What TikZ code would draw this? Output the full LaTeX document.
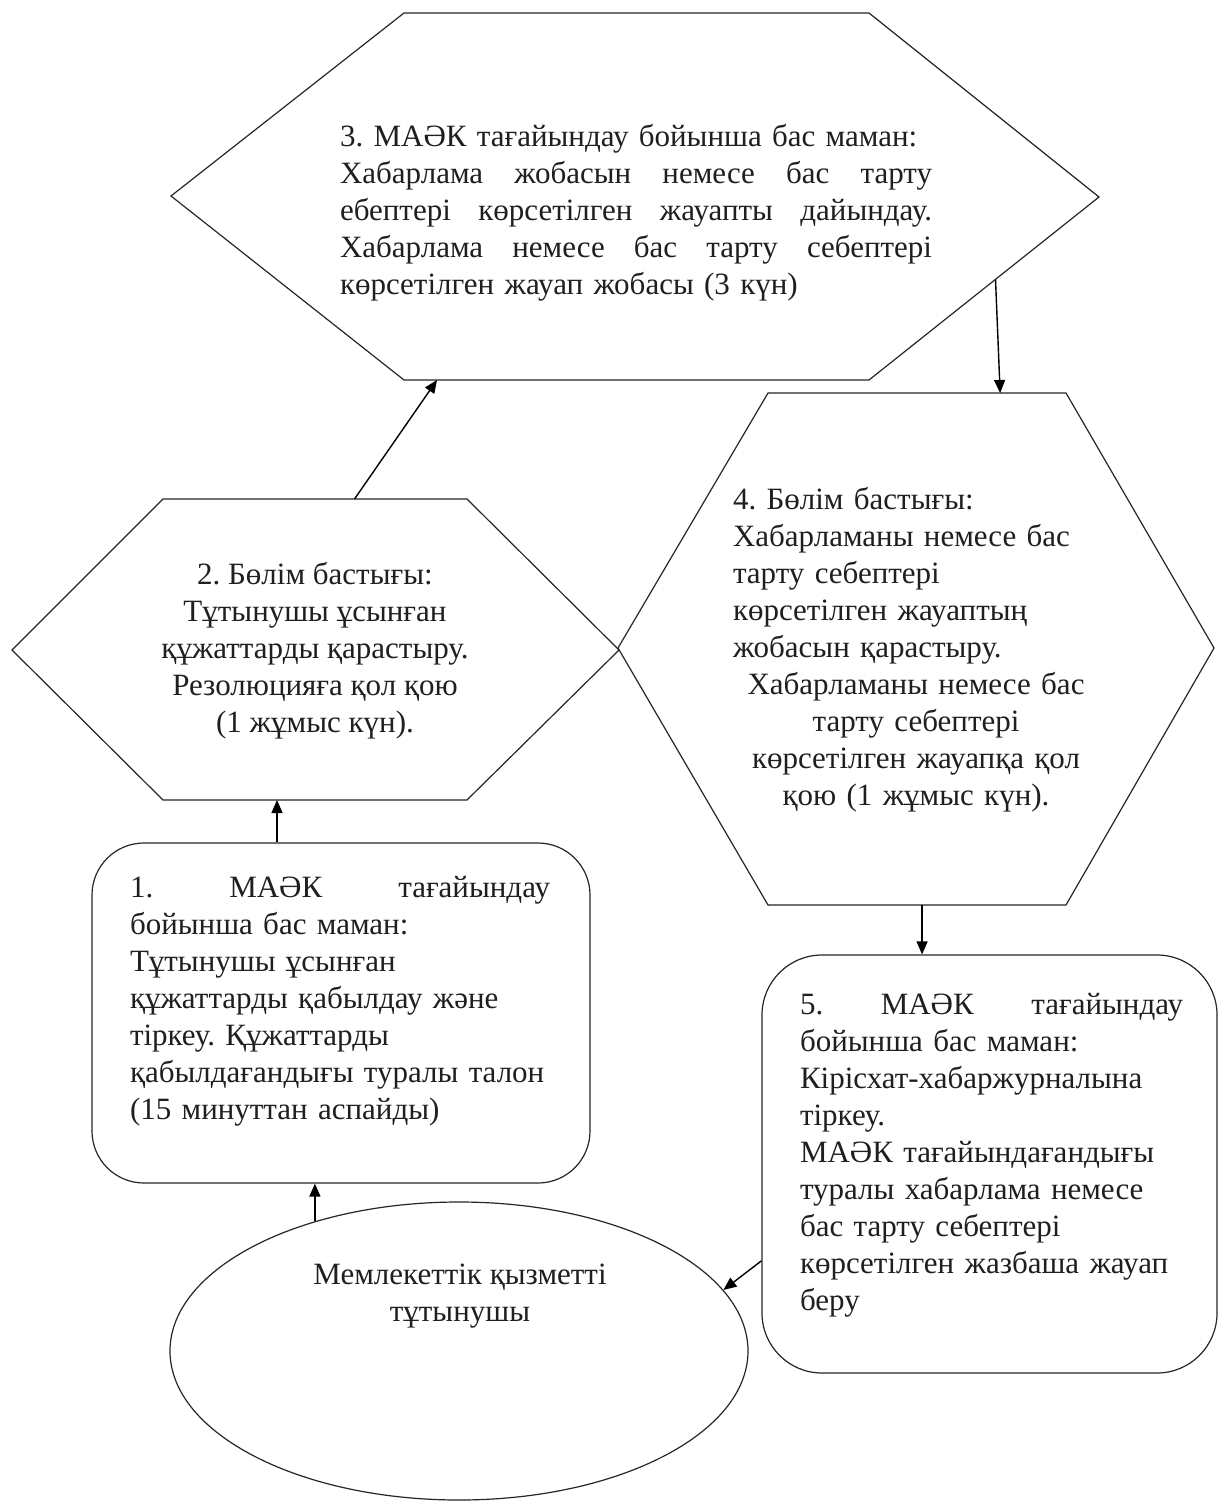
\documentclass[tikz,border=0pt]{standalone}
\usepackage{fontspec}
\setmainfont{Liberation Serif}
\usetikzlibrary{arrows.meta,calc,shapes.geometric}
\newcommand{\jline}[1]{\leavevmode\hbox to \linewidth{#1}}
\frenchspacing
\begin{document}
\begin{tikzpicture}[x=0.5pt,y=-0.5pt,
  outline/.style={draw=black!85,line width=0.6pt},
  arr/.style={draw=black,line width=0.7pt,-{Triangle[length=6.5pt,width=5.5pt]}},
  txt/.style={inner sep=0pt,outer sep=0pt,text=black!88,font=\fontsize{15.5}{18.5}\selectfont\frenchspacing},
  rbox/.style={outline,rectangle,inner sep=0pt},
  ovalshape/.style={outline,ellipse,inner sep=0pt}]
\useasboundingbox (0,0) rectangle (1219,1503);
\fill[white] (0,0) rectangle (1219,1503);

% hexagon 3
\coordinate (h3tl) at (404,13);  \coordinate (h3tr) at (869,13);
\coordinate (h3r)  at (1099,197);\coordinate (h3br) at (869,380);
\coordinate (h3bl) at (404,380); \coordinate (h3l)  at (171,196);
\draw[outline] (h3tl)--(h3tr)--(h3r)--(h3br)--(h3bl)--(h3l)--cycle;
% hexagon 2
\coordinate (h2tl) at (163,499); \coordinate (h2tr) at (467,499);
\coordinate (h2r)  at (619,650); \coordinate (h2br) at (467,800);
\coordinate (h2bl) at (163,800); \coordinate (h2l)  at (12,650);
\draw[outline] (h2tl)--(h2tr)--(h2r)--(h2br)--(h2bl)--(h2l)--cycle;
% hexagon 4
\coordinate (h4tl) at (768,393); \coordinate (h4tr) at (1066,393);
\coordinate (h4r)  at (1214,648);\coordinate (h4br) at (1066,905);
\coordinate (h4bl) at (768,905); \coordinate (h4l)  at (618,648);
\draw[outline] (h4tl)--(h4tr)--(h4r)--(h4br)--(h4bl)--(h4l)--cycle;

% rounded boxes and ellipse
\node[rbox,rounded corners=26pt,minimum width=249pt,minimum height=170pt] (box1) at (341,1013) {};
\node[rbox,rounded corners=30pt,minimum width=227.5pt,minimum height=209pt] (box5) at (989.5,1164) {};
\node[ovalshape,minimum width=289pt,minimum height=149pt] (cons) at (459,1351) {};

% texts
\node[txt,text width=296pt,align=left] (t3) at (636,213) {%
3. МАӘК тағайындау бойынша бас маман:\\
\jline{Хабарлама\hfill жобасын\hfill немесе\hfill бас\hfill тарту}\\
\jline{ебептері\hfill көрсетілген\hfill жауапты\hfill дайындау.}\\
\jline{Хабарлама\hfill немесе\hfill бас\hfill тарту\hfill себептері}\\
көрсетілген жауап жобасы (3 күн)};

\node[txt,align=center] (t2) at (315,651) {%
2. Бөлім бастығы:\\
Тұтынушы ұсынған\\
құжаттарды қарастыру.\\
Резолюцияға қол қою\\
(1 жұмыс күн).};

\node[txt,text width=183pt,align=left] (t4) at (916,650) {%
4. Бөлім бастығы:\\
Хабарламаны немесе бас\\
тарту себептері\\
көрсетілген жауаптың\\
жобасын қарастыру.\\
\jline{\hfil Хабарламаны немесе бас\hfil}\\
\jline{\hfil тарту себептері\hfil}\\
\jline{\hfil көрсетілген жауапқа қол\hfil}\\
\jline{\hfil қою (1 жұмыс күн).\hfil}};

\node[txt,text width=210pt,align=left] (t1) at (340,1001) {%
\jline{1.\hfill МАӘК\hfill тағайындау}\\
бойынша бас маман:\\
Тұтынушы ұсынған\\
құжаттарды қабылдау және\\
тіркеу. Құжаттарды\\
қабылдағандығы туралы талон\\
(15 минуттан аспайды)};

\node[txt,text width=191.5pt,align=left] (t5) at (991.5,1155) {%
\jline{5.\hfill МАӘК\hfill тағайындау}\\
бойынша бас маман:\\
Кірісхат-хабаржурналына\\
тіркеу.\\
МАӘК тағайындағандығы\\
туралы хабарлама немесе\\
бас тарту себептері\\
көрсетілген жазбаша жауап\\
беру};

\node[txt,align=center] (tc) at (460,1296) {%
Мемлекеттік қызметті\\
тұтынушы};

% connector end points on hexagon edges
\coordinate (p2b) at ($(h2bl)!0.375!(h2br)$);
\coordinate (p2t) at ($(h2tl)!0.63!(h2tr)$);
\coordinate (p3b) at ($(h3bl)!0.071!(h3br)$);
\coordinate (p3r) at ($(h3r)!0.45!(h3br)$);
\coordinate (p4t) at ($(h4tl)!0.779!(h4tr)$);
\coordinate (p4b) at ($(h4bl)!0.517!(h4br)$);

% connectors
\draw[arr] (cons.138.35) -- (cons.138.35 |- box1.south);
\draw[arr] (p2b |- box1.north) -- (p2b);
\draw[arr] (p2t) -- (p3b);
\draw[arr] (p3r) -- (p4t);
\draw[arr] (p4b) -- (p4b |- box5.north);
\draw[arr] (box5.203.3) -- (cons.13);
\end{tikzpicture}
\end{document}
